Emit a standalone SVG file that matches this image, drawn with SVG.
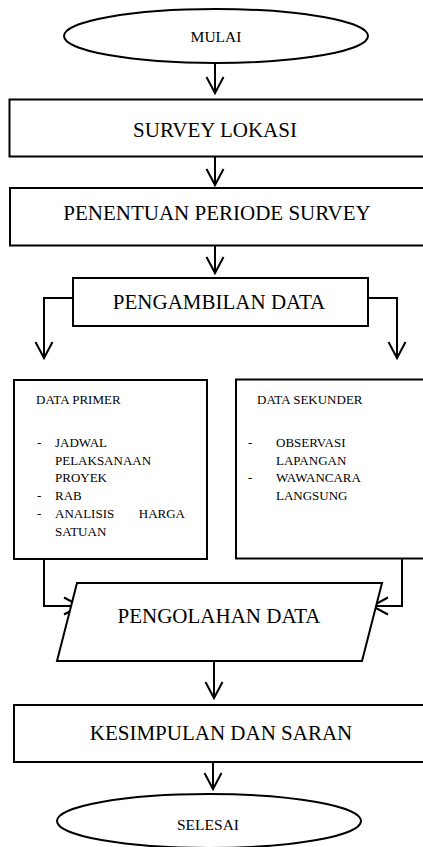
<svg xmlns="http://www.w3.org/2000/svg" width="423" height="847" viewBox="0 0 423 847">
<style>
.shape{fill:#fff;stroke:#000;stroke-width:2}
.conn{fill:none;stroke:#000;stroke-width:2}
.big{font-family:"Liberation Serif","Times New Roman",serif;font-size:21px;fill:#000;text-anchor:middle}
.oval{font-family:"Liberation Serif","Times New Roman",serif;font-size:15.5px;fill:#000;text-anchor:middle}
.small{font-family:"Liberation Serif","Times New Roman",serif;font-size:13px;fill:#000}
</style>
<defs>
<marker id="arr" markerUnits="userSpaceOnUse" markerWidth="20" markerHeight="20" viewBox="-1 -1 20 20" refX="16" refY="8.5" orient="auto" overflow="visible">
<path d="M0,0 L16,8.5 L0,17" fill="none" stroke="#000" stroke-width="2"/>
</marker>
</defs>
<rect width="423" height="847" fill="#fff"/>
<g id="connectors">
<line class="conn" x1="215" y1="64" x2="215" y2="93" marker-end="url(#arr)"/>
<line class="conn" x1="215" y1="157" x2="215" y2="185" marker-end="url(#arr)"/>
<line class="conn" x1="215" y1="246" x2="215" y2="273" marker-end="url(#arr)"/>
<polyline class="conn" points="73,298 44,298 44,358" marker-end="url(#arr)"/>
<polyline class="conn" points="368,298 397,298 397,358" marker-end="url(#arr)"/>
<polyline class="conn" points="44,559 44,606 80,606" marker-end="url(#arr)"/>
<polyline class="conn" points="402,559 402,606 372,606" marker-end="url(#arr)"/>
<line class="conn" x1="214" y1="661" x2="214" y2="698" marker-end="url(#arr)"/>
<line class="conn" x1="213" y1="762" x2="213" y2="789" marker-end="url(#arr)"/>
</g>
<g id="mulai">
<ellipse class="shape" cx="216" cy="36" rx="152" ry="27"/>
<text class="oval" x="216" y="42">MULAI</text>
</g>
<g id="survey-lokasi">
<rect class="shape" x="9.5" y="99.5" width="430" height="57"/>
<text class="big" x="215" y="137">SURVEY LOKASI</text>
</g>
<g id="penentuan">
<rect class="shape" x="10" y="188" width="430" height="57.5"/>
<text class="big" x="217" y="220">PENENTUAN PERIODE SURVEY</text>
</g>
<g id="pengambilan">
<rect class="shape" x="73" y="278" width="295" height="48"/>
<text class="big" x="219" y="309">PENGAMBILAN DATA</text>
</g>
<g id="data-primer">
<rect class="shape" x="14" y="380" width="193" height="179"/>
<text class="small" x="36" y="404">DATA PRIMER</text>
<text class="small" x="37" y="447">-</text>
<text class="small" x="55" y="447">JADWAL</text>
<text class="small" x="55" y="465">PELAKSANAAN</text>
<text class="small" x="55" y="482">PROYEK</text>
<text class="small" x="37" y="500">-</text>
<text class="small" x="55" y="500">RAB</text>
<text class="small" x="37" y="518">-</text>
<text class="small" x="55" y="518">ANALISIS</text>
<text class="small" x="185" y="518" text-anchor="end">HARGA</text>
<text class="small" x="55" y="536">SATUAN</text>
</g>
<g id="data-sekunder">
<rect class="shape" x="236" y="379.5" width="200" height="179"/>
<text class="small" x="257" y="404">DATA SEKUNDER</text>
<text class="small" x="248" y="447">-</text>
<text class="small" x="276" y="447">OBSERVASI</text>
<text class="small" x="276" y="465">LAPANGAN</text>
<text class="small" x="248" y="482">-</text>
<text class="small" x="276" y="482">WAWANCARA</text>
<text class="small" x="276" y="500">LANGSUNG</text>
</g>
<g id="pengolahan">
<polygon class="shape" points="77,583 382,583 362,661 57,661"/>
<text class="big" x="219" y="623">PENGOLAHAN DATA</text>
</g>
<g id="kesimpulan">
<rect class="shape" x="14" y="705" width="430" height="57"/>
<text class="big" x="221" y="740">KESIMPULAN DAN SARAN</text>
</g>
<g id="selesai">
<ellipse class="shape" cx="209" cy="821" rx="152" ry="27"/>
<text class="oval" x="208" y="830">SELESAI</text>
</g>
</svg>
